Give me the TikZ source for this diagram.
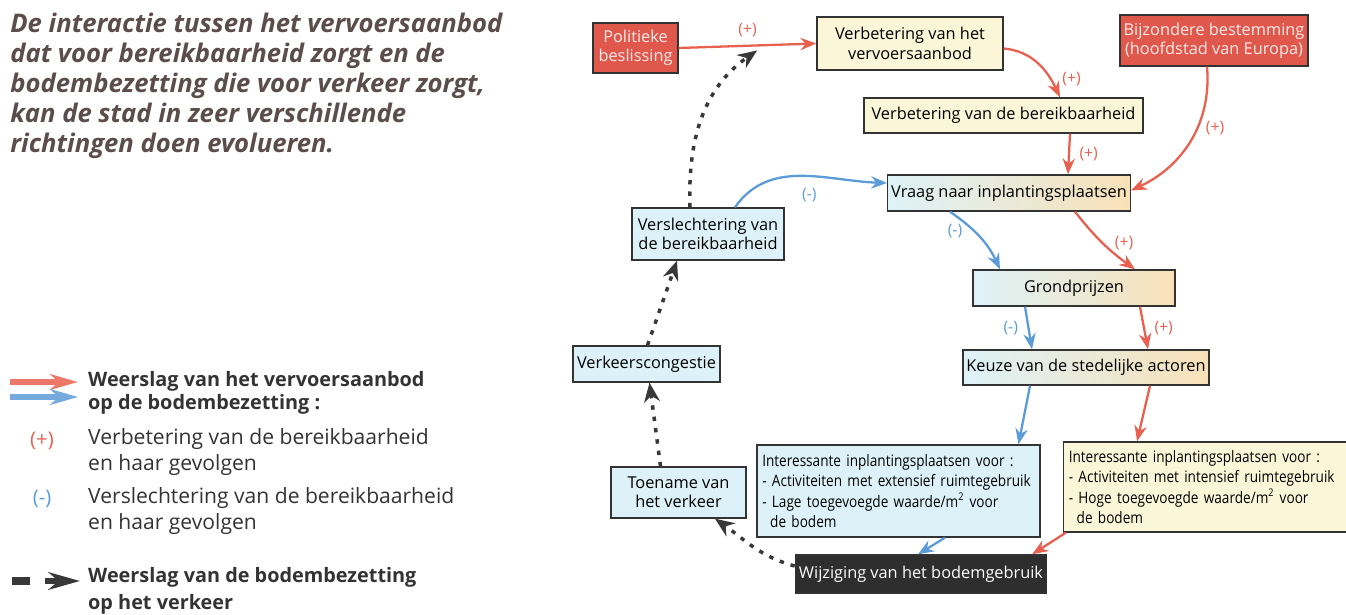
\documentclass[tikz,border=0pt]{standalone}
\usepackage{fontspec}
\setmainfont{Open Sans}
\newfontfamily\condfont[FakeStretch=0.86]{Open Sans}
\usetikzlibrary{arrows.meta}
\definecolor{plusred}{HTML}{E8604F}
\definecolor{minblue}{HTML}{5B9BD8}
\definecolor{boxred}{HTML}{E0574C}
\definecolor{boxyel}{HTML}{FCF6D8}
\definecolor{boxblue}{HTML}{DDF2F8}
\definecolor{boxorange}{HTML}{F8E1B8}
\definecolor{boxdark}{HTML}{2E2E2E}
\definecolor{titlegray}{HTML}{5B4D4B}
\definecolor{dotgray}{HTML}{383838}
\tikzset{
  box/.style={draw=black!80, line width=0.8pt, align=center, inner sep=2pt,
    font=\fontsize{9.3}{11}\selectfont},
  redbox/.style={box, fill=boxred, text=white!92!red},
  yelbox/.style={box, fill=boxyel},
  bluebox/.style={box, fill=boxblue},
  mixbox/.style={box, left color=boxblue, right color=boxorange},
  listbox/.style={box, align=left, text width=5.45cm, inner sep=3pt,
    font=\condfont\fontsize{9}{11.6}\selectfont},
  plus/.style={-{Stealth[length=9pt,width=7pt]}, draw=plusred, line width=1.3pt},
  minus/.style={-{Stealth[length=9pt,width=7pt]}, draw=minblue, line width=1.3pt},
  traffic/.style={-{Stealth[length=11pt,width=9pt]}, draw=dotgray, line width=2pt,
    dash pattern=on 2.5pt off 4pt},
  plab/.style={text=plusred, font=\fontsize{9}{11}\selectfont},
  mlab/.style={text=minblue, font=\fontsize{9}{11}\selectfont},
  legtext/.style={anchor=west, align=left, text=black!80}
}
\begin{document}
\begin{tikzpicture}[x=0.02cm,y=-0.02cm]
\useasboundingbox (0,0) rectangle (1346,615);

\node[anchor=north west, align=left, inner sep=0pt, text=titlegray,
  font=\fontsize{14.6}{17}\selectfont\bfseries\itshape] (title) at (10,13)
  {De interactie tussen het vervoersaanbod\\dat voor bereikbaarheid zorgt en de\\
   bodembezetting die voor verkeer zorgt,\\kan de stad in zeer verschillende\\
   richtingen doen evolueren.};

\node[redbox, minimum width=1.7cm, minimum height=1cm] (pol) at (635.5,48) {Politieke\\beslissing};
\node[yelbox, minimum width=3.72cm, minimum height=1.06cm] (vva) at (910,43.5) {Verbetering van het\\vervoersaanbod};
\node[redbox, minimum width=3.56cm, minimum height=1.02cm] (bijz) at (1214,40.5) {Bijzondere bestemming\\(hoofdstad van Europa)};
\node[yelbox, minimum width=5.58cm, minimum height=0.7cm] (vbb) at (1003.5,115.5) {Verbetering van de bereikbaarheid};
\node[mixbox, minimum width=4.64cm, minimum height=0.72cm] (vraag) at (1009,193) {Vraag naar inplantingsplaatsen};
\node[mixbox, minimum width=4.04cm, minimum height=0.72cm] (grond) at (1074,288) {Grondprijzen};
\node[mixbox, minimum width=4.92cm, minimum height=0.7cm] (keuze) at (1086,367.5) {Keuze van de stedelijke actoren};
\node[listbox, fill=boxblue, minimum width=5.66cm, minimum height=1.84cm] (intext) at (898.5,491)
  {Interessante inplantingsplaatsen voor :\\- Activiteiten met extensief ruimtegebruik\\
   - Lage toegevoegde waarde/m\textsuperscript{2} voor\\\hspace*{0.5em}de bodem};
\node[listbox, fill=boxyel, minimum width=5.6cm, minimum height=1.8cm] (intint) at (1205,487)
  {Interessante inplantingsplaatsen voor :\\- Activiteiten met intensief ruimtegebruik\\
   - Hoge toegevoegde waarde/m\textsuperscript{2} voor\\\hspace*{0.5em}de bodem};
\node[box, fill=boxdark, text=white, minimum width=4.96cm, minimum height=0.76cm] (wijz) at (921,574) {Wijziging van het bodemgebruik};
\node[bluebox, minimum width=2.7cm, minimum height=1.02cm] (toename) at (678.5,492.5) {Toename van\\het verkeer};
\node[bluebox, minimum width=2.94cm, minimum height=0.72cm] (congestie) at (646.5,364) {Verkeerscongestie};
\node[bluebox, minimum width=3.04cm, minimum height=1.04cm] (verslecht) at (708,234) {Verslechtering van\\de bereikbaarheid};

\draw[plus] (pol.east) -- coordinate[pos=0.57] (polhit) node[plab, pos=0.5, above=1pt] {(+)} (vva.west);
\draw[plus] ([yshift=-0.1cm]vva.east) to[out=-5, in=115] node[plab, pos=0.75, right=3pt] {(+)} ([xshift=1.13cm]vbb.north);
\draw[plus] ([xshift=1.33cm]vbb.south) -- node[plab, right=2pt] {(+)} ([xshift=1.18cm]vraag.north);
\draw[plus] ([xshift=-0.14cm]bijz.south) to[out=-85, in=25] node[plab, pos=0.4, right=1pt] {(+)} ([yshift=0.05cm]vraag.east);
\draw[plus] ([xshift=1.32cm]vraag.south) to[bend right=8] node[plab, right=3pt] {(+)} ([xshift=1.22cm]grond.north);
\draw[plus] ([xshift=1.32cm]grond.south) -- node[plab, right=2pt] {(+)} ([xshift=1.24cm]keuze.north);
\draw[plus] ([xshift=1.28cm]keuze.south) -- ([xshift=-1.36cm]intint.north);
\draw[plus] ([xshift=0.06cm]intint.south west) -- ([xshift=-0.3cm]wijz.north east);

\draw[minus] ([xshift=0.54cm]verslecht.north) to[out=55, in=178] node[mlab, pos=0.55, below=3pt] {(-)} ([yshift=0.2cm]vraag.west);
\draw[minus] ([xshift=-1.18cm]vraag.south) to[out=-35, in=115] node[mlab, pos=0.4, left=3pt] {(-)} ([xshift=-1.48cm]grond.north);
\draw[minus] ([xshift=-0.98cm]grond.south) -- node[mlab, left=2pt] {(-)} ([xshift=-1.08cm]keuze.north);
\draw[minus] ([xshift=-1.12cm]keuze.south) -- ([xshift=2.4cm]intext.north);
\draw[minus] ([xshift=0.93cm]intext.south) -- ([xshift=-0.06cm]wijz.north);

\draw[traffic] ([yshift=0.16cm]wijz.west) to[out=165, in=-35] ([xshift=0.73cm]toename.south);
\draw[traffic] ([xshift=-0.36cm]toename.north) -- ([xshift=0.06cm]congestie.south);
\draw[traffic] ([xshift=0.02cm]congestie.north) -- ([xshift=-0.62cm]verslecht.south);
\draw[traffic] ([xshift=-0.36cm]verslecht.north) to[out=92, in=215] ([yshift=-0.1cm]polhit);

\coordinate (lr0) at (10,382);
\coordinate (lr1) at (78,382);
\coordinate (lb0) at (10,397);
\coordinate (lb1) at (78,397);
\coordinate (ld0) at (12,581);
\coordinate (ld1) at (30,581);
\coordinate (lt0) at (45,581);
\coordinate (lt1) at (80,581);
\draw[-{Stealth[length=16pt,width=9pt]}, line width=3pt, draw=plusred!85] (lr0) -- (lr1);
\draw[-{Stealth[length=16pt,width=9pt]}, line width=3pt, draw=minblue!85] (lb0) -- (lb1);
\draw[line width=4pt, draw=dotgray] (ld0) -- (ld1);
\draw[-{Stealth[length=18pt,width=10pt]}, line width=3pt, draw=dotgray] (lt0) -- (lt1);

\node[legtext, font=\fontsize{11.3}{13.2}\selectfont\bfseries] (leg1) at (82,393) {Weerslag van het vervoersaanbod\\op de bodembezetting :};
\node[plab, font=\fontsize{11.5}{14}\selectfont] (legp) at (42,441) {(+)};
\node[legtext, font=\fontsize{12}{15}\selectfont] (leg2) at (82,452) {Verbetering van de bereikbaarheid\\en haar gevolgen};
\node[mlab, font=\fontsize{11.5}{14}\selectfont] (legm) at (42,499) {(-)};
\node[legtext, font=\fontsize{12}{15}\selectfont] (leg3) at (82,511) {Verslechtering van de bereikbaarheid\\en haar gevolgen};
\node[legtext, font=\fontsize{11.3}{15}\selectfont\bfseries] (leg4) at (82,591) {Weerslag van de bodembezetting\\op het verkeer};
\end{tikzpicture}
\end{document}
